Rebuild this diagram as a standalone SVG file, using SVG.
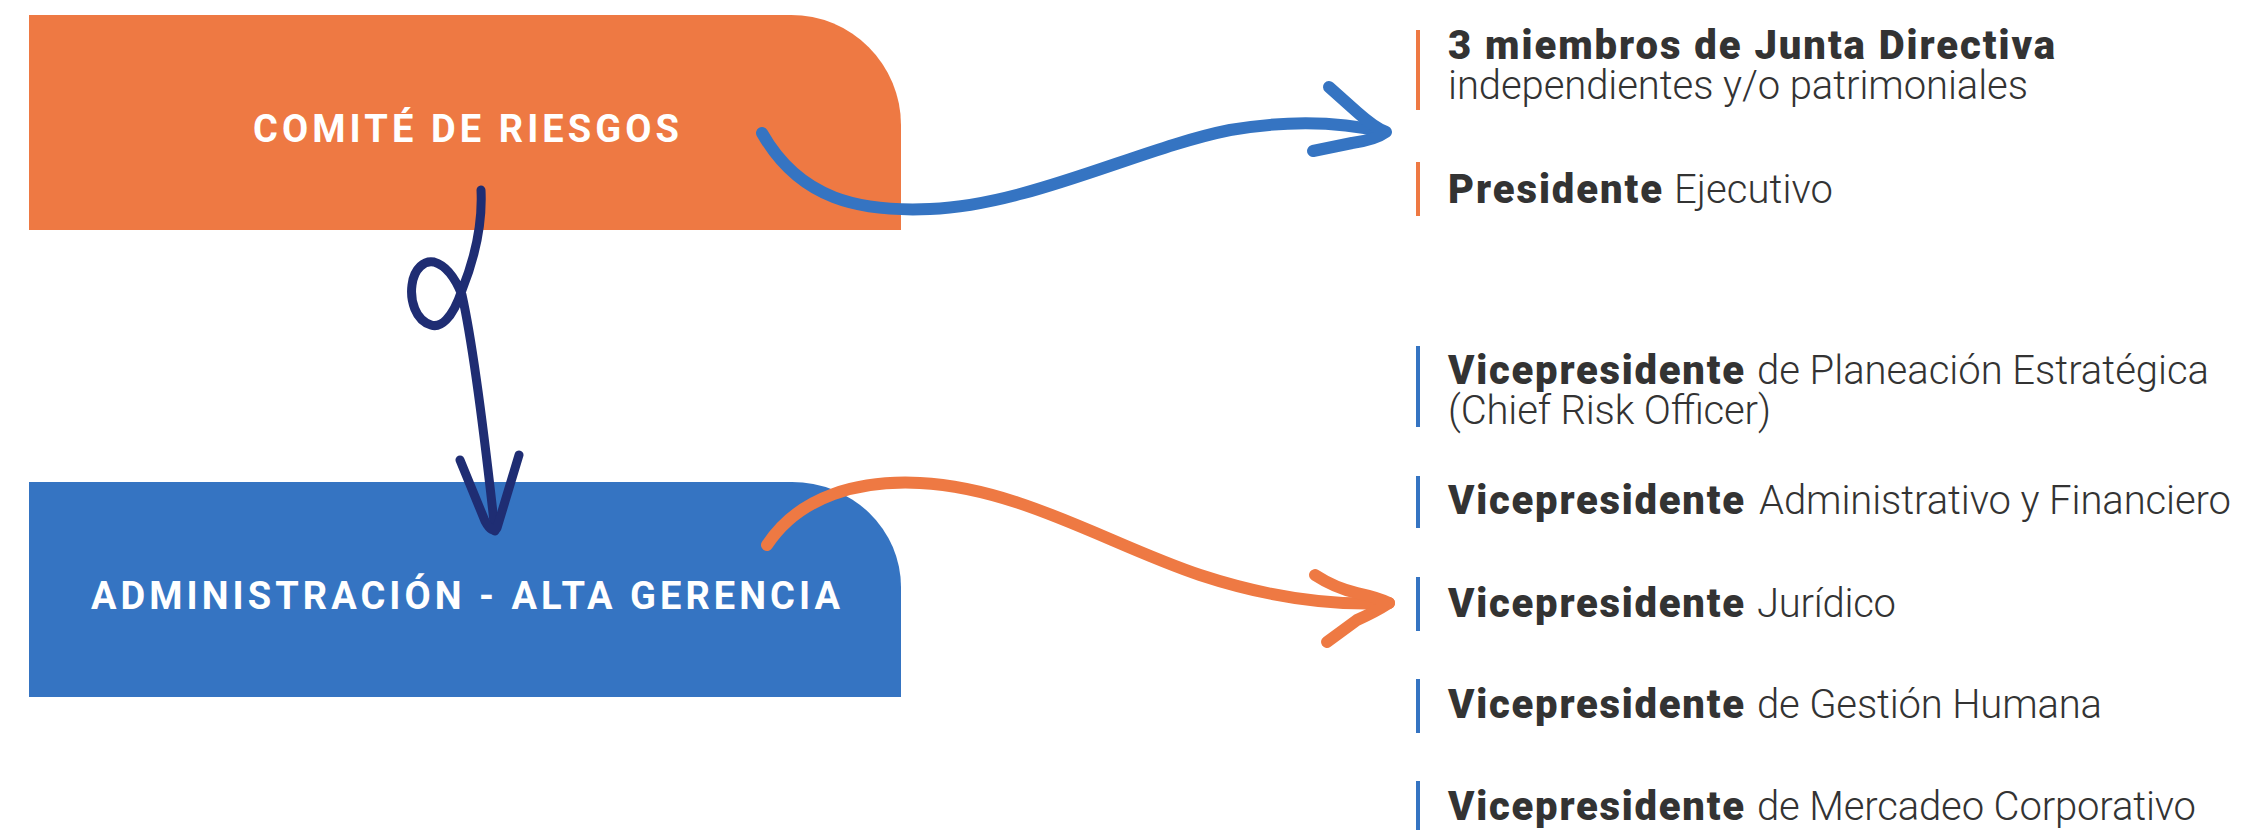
<svg xmlns="http://www.w3.org/2000/svg" width="2243" height="830" viewBox="0 0 2243 830">
<style>
.box-o{fill:#EE7943}
.box-b{fill:#3574C2}
.boxtxt{font-family:Roboto,"Liberation Sans",sans-serif;font-weight:700;font-size:38px;fill:#ffffff}
.b{font-family:Roboto,"Liberation Sans",sans-serif;font-weight:900;font-size:40px;fill:#333333}
.l{font-family:Roboto,"Liberation Sans",sans-serif;font-weight:300;font-size:40px;fill:#333333}
.bar-o{fill:#EE7943}
.bar-b{fill:#3574C2}
.con{fill:none;stroke-linecap:round;stroke-linejoin:round}
.c-blue{stroke:#3574C2;stroke-width:12}
.c-orange{stroke:#EE7943;stroke-width:12}
.c-navy{stroke:#1F2D73;stroke-width:9}
</style>
<rect width="2243" height="830" fill="#ffffff"/>
<g id="node-comite">
<path class="box-o" d="M29 15 H791 A110 110 0 0 1 901 125 V230 H29 Z"/>
<text class="boxtxt" x="253" y="142" textLength="426">COMITÉ DE RIESGOS</text>
</g>
<g id="node-admin">
<path class="box-b" d="M29 482 H792 A109 105 0 0 1 901 587 V697 H29 Z"/>
<text class="boxtxt" x="91" y="609" textLength="749">ADMINISTRACIÓN - ALTA GERENCIA</text>
</g>
<g id="node-junta">
<rect class="bar-o" x="1416" y="30" width="4" height="80"/>
<text class="b" x="1448" y="59" textLength="607">3 miembros de Junta Directiva</text>
<text class="l" x="1448" y="99" textLength="580">independientes y/o patrimoniales</text>
</g>
<g id="node-presidente">
<rect class="bar-o" x="1416" y="162" width="4" height="54"/>
<text class="b" x="1448" y="203" textLength="214">Presidente</text>
<text class="l" x="1674" y="203" textLength="159">Ejecutivo</text>
</g>
<g id="node-vp-planeacion">
<rect class="bar-b" x="1416" y="346" width="4" height="81"/>
<text class="b" x="1448" y="384" textLength="296">Vicepresidente</text>
<text class="l" x="1757" y="384" textLength="452">de Planeación Estratégica</text>
<text class="l" x="1448" y="424" textLength="323">(Chief Risk Officer)</text>
</g>
<g id="node-vp-admin">
<rect class="bar-b" x="1416" y="476" width="4" height="52"/>
<text class="b" x="1448" y="514" textLength="296">Vicepresidente</text>
<text class="l" x="1759" y="514" textLength="472">Administrativo y Financiero</text>
</g>
<g id="node-vp-juridico">
<rect class="bar-b" x="1416" y="577" width="4" height="54"/>
<text class="b" x="1448" y="617" textLength="296">Vicepresidente</text>
<text class="l" x="1757" y="617" textLength="139">Jurídico</text>
</g>
<g id="node-vp-gestion">
<rect class="bar-b" x="1416" y="679" width="4" height="54"/>
<text class="b" x="1448" y="718" textLength="296">Vicepresidente</text>
<text class="l" x="1757" y="718" textLength="345">de Gestión Humana</text>
</g>
<g id="node-vp-mercadeo">
<rect class="bar-b" x="1416" y="781" width="4" height="54"/>
<text class="b" x="1448" y="820" textLength="296">Vicepresidente</text>
<text class="l" x="1757" y="820" textLength="439">de Mercadeo Corporativo</text>
</g>
<g id="connectors">
<path class="con c-blue" d="M762 133 C800 200 860 212 930 209 C1030 205 1140 148 1230 130 C1300 118 1350 124 1384 132"/>
<path class="con c-blue" stroke-width="14" d="M1329 87 L1357 112 Q1375 128 1386 132 Q1375 140 1352 143 L1313 151"/>
<path class="con c-orange" d="M767 545 C800 495 860 480 920 483 C1020 488 1110 545 1200 575 C1270 598 1330 606 1389 603"/>
<path class="con c-orange" stroke-width="14" d="M1315 575 Q1335 588 1357 593 Q1380 598 1389 603 Q1375 612 1357 620 L1327 642"/>
<path class="con c-navy" d="M481 190 C483 230 472 265 462 290 C452 320 440 328 431 325 C415 320 410 300 412 285 C414 268 425 260 434 262 C448 266 456 280 462 295 C472 340 485 440 495 531"/>
<path class="con c-navy" d="M460 460 L485 521 Q492 534 497 528 L519 455"/>
</g>
</svg>
